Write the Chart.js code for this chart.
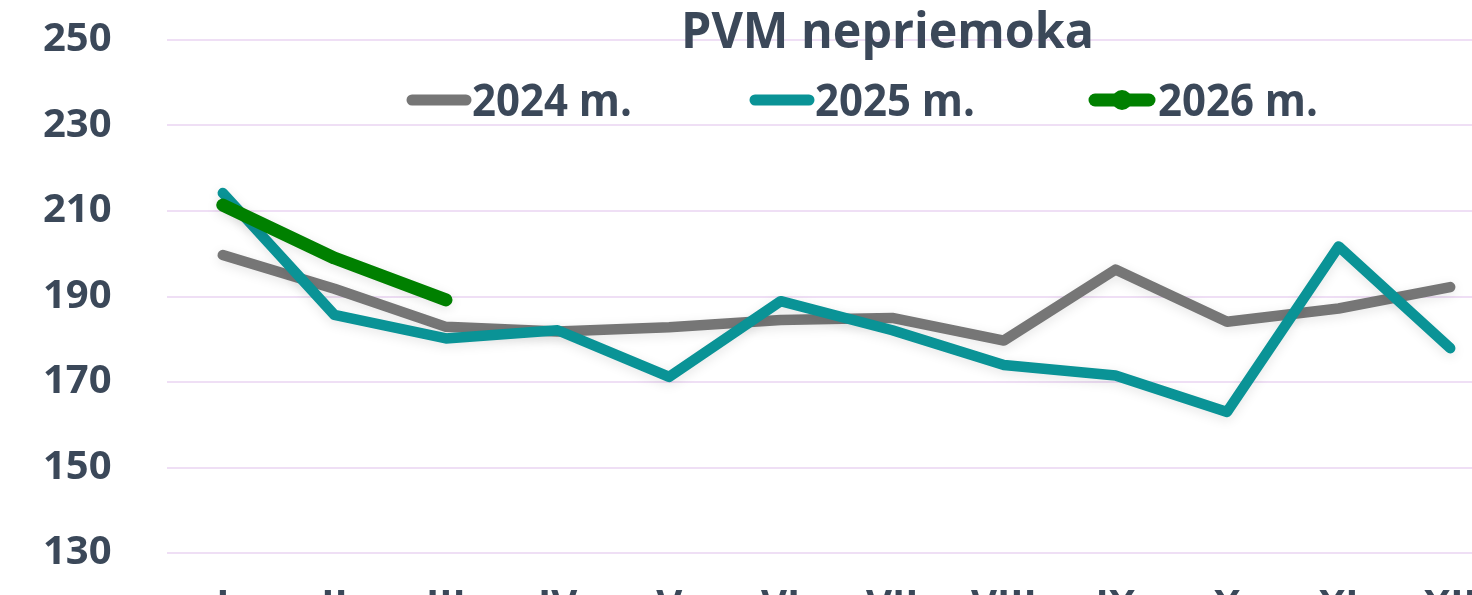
<!DOCTYPE html>
<html>
<head>
<meta charset="utf-8">
<script src="https://cdn.jsdelivr.net/npm/chart.js@4"></script>
<style>
    html, body { margin: 0; padding: 0; background: #ffffff; overflow: hidden; }
    #wrap { position: absolute; left: 0; top: 0; width: 1520px; height: 661px; }
</style>
</head>
<body>
<div id="wrap"><canvas id="pvmChart"></canvas></div>
<script>
// ---------------------------------------------------------------------------
// Data
// ---------------------------------------------------------------------------
const months = ["I", "II", "III", "IV", "V", "VI", "VII", "VIII", "IX", "X", "XI", "XII"];
const values2024 = [199.7, 191.8, 182.9, 181.8, 182.8, 184.5, 185.0, 179.7, 196.3, 184.1, 187.2, 192.2];
const values2025 = [214.2, 185.7, 180.2, 182.1, 171.2, 188.9, 182.1, 174.0, 171.5, 163.0, 201.7, 177.9];
const values2026 = [211.4, 199.0, 189.2, null, null, null, null, null, null, null, null, null];
const yTicks = [130, 150, 170, 190, 210, 230, 250];

const chartTitle = "PVM nepriemoka";
const seriesNames = ["2024 m.", "2025 m.", "2026 m."];

const TEXT_COLOR = "#3b4859";
const GRAY = "#767676";
const TEAL = "#0a9396";
const GREEN = "#008000";

// ---------------------------------------------------------------------------
// helpers: draw text squeezed to a given width
// ---------------------------------------------------------------------------
function fitText(ctx, text, x, y, width, font) {
    ctx.save();
    ctx.font = font;
    const w = ctx.measureText(text).width;
    ctx.translate(x, y);
    ctx.scale(width / w, 1);
    ctx.fillText(text, 0, 0);
    ctx.restore();
}

// soft shadow under the lines
const lineShadow = {
    id: "lineShadow",
    beforeDatasetDraw(chart) {
        const ctx = chart.ctx;
        ctx.save();
        ctx.shadowColor = "rgba(0, 0, 0, 0.10)";
        ctx.shadowBlur = 12;
        ctx.shadowOffsetY = 3;
    },
    afterDatasetDraw(chart) {
        chart.ctx.restore();
    },
};

// title + legend drawn over the plot, like the original
const overlay = {
    id: "overlay",
    afterDraw(chart) {
        const ctx = chart.ctx;
        ctx.save();
        ctx.fillStyle = TEXT_COLOR;
        ctx.textBaseline = "alphabetic";
        ctx.textAlign = "left";
        fitText(ctx, chartTitle, 681, 48, 413, "bold 50px 'Open Sans'");

        const items = [
            { x: 412, color: GRAY, width: 11, dot: false, tx: 472 },
            { x: 755, color: TEAL, width: 11, dot: false, tx: 815 },
            { x: 1095, color: GREEN, width: 13, dot: true, tx: 1158 },
        ];
        items.forEach((it, i) => {
            ctx.strokeStyle = it.color;
            ctx.lineWidth = it.width;
            ctx.lineCap = "round";
            ctx.beginPath();
            ctx.moveTo(it.x, 100);
            ctx.lineTo(it.x + 54, 100);
            ctx.stroke();
            if (it.dot) {
                ctx.fillStyle = it.color;
                ctx.beginPath();
                ctx.arc(it.x + 27, 100, 10, 0, Math.PI * 2);
                ctx.fill();
            }
            ctx.fillStyle = TEXT_COLOR;
            fitText(ctx, seriesNames[i], it.tx, 116, 160, "bold 44px 'Open Sans'");
        });
        ctx.restore();
    },
};

// ---------------------------------------------------------------------------
// Chart
// ---------------------------------------------------------------------------
function makeLine(label, data, color, width, order) {
    return {
        label: label,
        data: data,
        borderColor: color,
        backgroundColor: color,
        borderWidth: width,
        borderCapStyle: "round",
        borderJoinStyle: "round",
        pointRadius: 0,
        pointHoverRadius: 0,
        tension: 0,
        spanGaps: false,
        order: order,
    };
}

new Chart(document.getElementById("pvmChart"), {
    type: "line",
    data: {
        labels: months,
        datasets: [
            makeLine(seriesNames[0], values2024, GRAY, 10.5, 3),
            makeLine(seriesNames[1], values2025, TEAL, 10.5, 2),
            makeLine(seriesNames[2], values2026, GREEN, 13, 1),
        ],
    },
    options: {
        responsive: true,
        maintainAspectRatio: false,
        animation: false,
        layout: { padding: { top: 40, right: 14, bottom: 0, left: 43 } },
        plugins: {
            legend: { display: false },
            title: { display: false },
            tooltip: { enabled: false },
        },
        scales: {
            x: {
                offset: true,
                grid: { display: false, drawTicks: false },
                border: { display: false },
                ticks: {
                    color: TEXT_COLOR,
                    font: { family: "'Open Sans'", size: 40, weight: "bold" },
                    padding: 30,
                    maxRotation: 0,
                    autoSkip: false,
                },
            },
            y: {
                min: 130,
                max: 250,
                afterBuildTicks(scale) {
                    scale.ticks = yTicks.map((v) => ({ value: v }));
                },
                afterFit(scale) {
                    scale.width = 124;
                },
                grid: { color: "#efdff5", lineWidth: 2, drawTicks: false },
                border: { display: false },
                ticks: {
                    color: TEXT_COLOR,
                    font: { family: "'Open Sans'", size: 40, weight: "bold" },
                    padding: 0,
                    crossAlign: "far",
                },
            },
        },
    },
    plugins: [lineShadow, overlay],
});
</script>
</body>
</html>
